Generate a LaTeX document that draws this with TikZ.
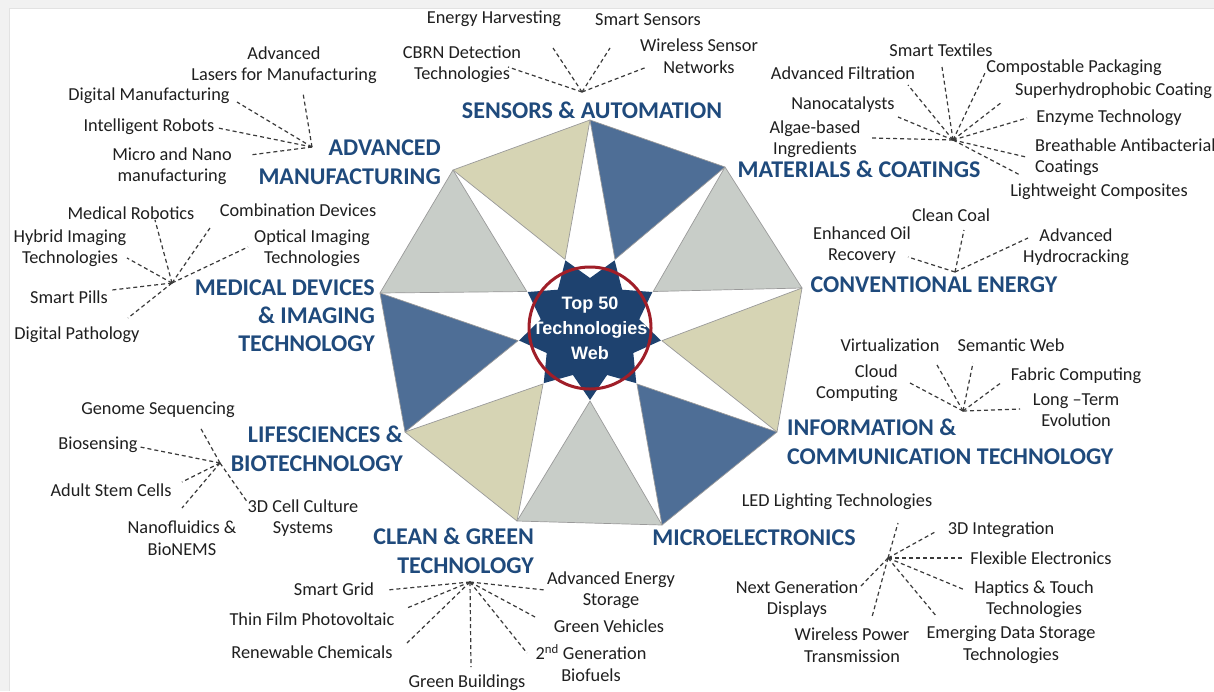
\documentclass[tikz,border=0pt]{standalone}
\usepackage{fontspec}
\setmainfont{Carlito}
\newfontfamily\arialf{Liberation Sans}
\usetikzlibrary{calc}
\definecolor{bggray}{HTML}{F1F1F1}
\definecolor{cardedge}{HTML}{E2E2E2}
\definecolor{headblue}{HTML}{1F4A7C}
\definecolor{labgray}{HTML}{1F1F1F}
\definecolor{triblue}{HTML}{4E6E96}
\definecolor{trigray}{HTML}{C8CDC8}
\definecolor{trikhaki}{HTML}{D6D4B4}
\definecolor{stardark}{HTML}{1E426F}
\definecolor{ringred}{HTML}{A01E28}
\definecolor{edgegray}{HTML}{9A9A9A}
\definecolor{dashgray}{HTML}{3A3A3A}
\tikzset{
  head/.style={font=\bfseries\fontsize{24}{29}\selectfont, text=headblue, inner sep=0pt, align=center},
  lab/.style={font=\fontsize{18.3}{21.5}\selectfont, text=labgray, inner sep=0pt, align=center},
  dashline/.style={draw=dashgray, line width=1.2pt, dash pattern=on 4pt off 3pt},
  tri/.style={draw=edgegray, line width=0.7pt, line join=round}
}
\begin{document}
\begin{tikzpicture}[x=1pt,y=-1pt]
\useasboundingbox (0,0) rectangle (1214,691);
% frame
\fill[bggray] (0,0) rectangle (1214,691);
\fill[cardedge] (9,8) rectangle (1214,691);
\fill[white] (10,9) rectangle (1214,691);

% outer vertices of the nonagon
\coordinate (V0) at (590,120);
\coordinate (V1) at (725,167);
\coordinate (V2) at (802,288);
\coordinate (V3) at (777,432);
\coordinate (V4) at (662,525);
\coordinate (V5) at (517,521);
\coordinate (V6) at (405,432);
\coordinate (V7) at (380,293);
\coordinate (V8) at (453,170);
\begin{scope}[shift={(590,328)}, yscale=-1]
  \foreach \i in {0,...,8} {
    \coordinate (I\i) at ({70-40*\i}:73);
  }
\end{scope}
% triangles
\filldraw[tri, fill=triblue]   (V0) -- (V1) -- (I0) -- cycle;
\filldraw[tri, fill=trigray]   (V1) -- (V2) -- (I1) -- cycle;
\filldraw[tri, fill=trikhaki]  (V2) -- (V3) -- (I2) -- cycle;
\filldraw[tri, fill=triblue]   (V3) -- (V4) -- (I3) -- cycle;
\filldraw[tri, fill=trigray]   (V4) -- (V5) -- (I4) -- cycle;
\filldraw[tri, fill=trikhaki]  (V5) -- (V6) -- (I5) -- cycle;
\filldraw[tri, fill=triblue]   (V6) -- (V7) -- (I6) -- cycle;
\filldraw[tri, fill=trigray]   (V7) -- (V8) -- (I7) -- cycle;
\filldraw[tri, fill=trikhaki]  (V8) -- (V0) -- (I8) -- cycle;
% central star and ring
\begin{scope}[shift={(590,328)}, yscale=-1]
  \fill[stardark] (90:50) \foreach \i in {0,...,8} { -- ({110+40*\i}:72) -- ({130+40*\i}:50) } -- cycle;
  \draw[ringred, line width=3pt] (0,0) circle (61pt);
\end{scope}
\node[font=\arialf\bfseries\fontsize{18}{25}\selectfont, text=white, align=center, inner sep=0pt] (ctr) at (590,328) {Top 50\\Technologies\\Web};

% ---------------- SENSORS & AUTOMATION
\node[head] (hS) at (592,110) {SENSORS \& AUTOMATION};
\node[lab] (eh) at (494,19) {Energy Harvesting};
\node[lab] (ss) at (648,20) {Smart Sensors};
\node[lab] (cbrn) at (462,64) {CBRN Detection\\Technologies};
\node[lab] (wsn) at (699,56) {Wireless Sensor\\Networks};
\coordinate (hubS) at (582,92);
\coordinate (eS1) at (553,48);
\coordinate (eS2) at (610,48);
\coordinate (eS3) at (508,67);
\coordinate (eS4) at (647,67);
\foreach \e in {eS1,eS2,eS3,eS4} \draw[dashline] (hubS) -- (\e);

% ---------------- ADVANCED MANUFACTURING
\node[head, align=right, anchor=east] (hA) at (441,162) {ADVANCED\\MANUFACTURING};
\node[lab] (alm) at (284,65) {Advanced\\Lasers for Manufacturing};
\node[lab] (dm) at (149,96) {Digital Manufacturing};
\node[lab] (ir) at (149,127) {Intelligent Robots};
\node[lab] (mnm) at (172,166) {Micro and Nano\\manufacturing};
\coordinate (hubA) at (312,147);
\coordinate (eA1) at (303,93);
\coordinate (eA2) at (237,102);
\coordinate (eA3) at (218,128);
\coordinate (eA4) at (250,155);
\foreach \e in {eA1,eA2,eA3,eA4} \draw[dashline] (hubA) -- (\e);

% ---------------- MATERIALS & COATINGS
\node[head] (hM) at (859,169) {MATERIALS \& COATINGS};
\node[lab] (st) at (941,50) {Smart Textiles};
\node[lab] (af) at (843,73) {Advanced Filtration};
\node[lab] (cp) at (1074,68) {Compostable Packaging};
\node[lab, anchor=west] (sc) at (1015,91) {Superhydrophobic Coating};
\node[lab] (nc) at (843,105) {Nanocatalysts};
\node[lab] (et) at (1109,118) {Enzyme Technology};
\node[lab] (ab) at (815,139) {Algae-based\\Ingredients};
\node[lab, anchor=west, align=left] (bac) at (1035,157) {Breathable Antibacterial\\Coatings};
\node[lab] (lc) at (1099,192) {Lightweight Composites};
\coordinate (hubM) at (953,140);
\coordinate (eM1) at (942,67);
\coordinate (eM2) at (908,85);
\coordinate (eM3) at (985,73);
\coordinate (eM4) at (1002,102);
\coordinate (eM5) at (898,117);
\coordinate (eM6) at (1027,118);
\coordinate (eM7) at (872,138);
\coordinate (eM8) at (1026,157);
\coordinate (eM9) at (1020,175);
\foreach \e in {eM1,eM2,eM3,eM4,eM5,eM6,eM7,eM8,eM9} \draw[dashline] (hubM) -- (\e);

% ---------------- MEDICAL DEVICES
\node[head, align=right, anchor=east, font=\bfseries\fontsize{24}{28}\selectfont] (hMe) at (375,316) {MEDICAL DEVICES\\\& IMAGING\\TECHNOLOGY};
\node[lab] (mr) at (131,213) {Medical Robotics};
\node[lab] (cd) at (298,210) {Combination Devices};
\node[lab] (hit) at (70,248) {Hybrid Imaging\\Technologies};
\node[lab] (oit) at (312,248) {Optical Imaging\\Technologies};
\node[lab] (sp) at (69,297) {Smart Pills};
\node[lab] (dp) at (77,335) {Digital Pathology};
\coordinate (hubMe) at (172,283);
\coordinate (eD1) at (155,220);
\coordinate (eD2) at (210,228);
\coordinate (eD3) at (127,258);
\coordinate (eD4) at (248,247);
\coordinate (eD5) at (112,290);
\coordinate (eD6) at (128,318);
\foreach \e in {eD1,eD2,eD3,eD4,eD5,eD6} \draw[dashline] (hubMe) -- (\e);

% ---------------- CONVENTIONAL ENERGY
\node[head] (hC) at (934,285) {CONVENTIONAL ENERGY};
\node[lab] (cc) at (951,215) {Clean Coal};
\node[lab] (eor) at (862,245) {Enhanced Oil\\Recovery};
\node[lab] (ah) at (1076,247) {Advanced\\Hydrocracking};
\coordinate (hubC) at (955,272);
\coordinate (eC1) at (964,230);
\coordinate (eC2) at (908,257);
\coordinate (eC3) at (1028,238);
\foreach \e in {eC1,eC2,eC3} \draw[dashline] (hubC) -- (\e);

% ---------------- ICT
\node[head, align=left, anchor=west] (hI) at (787,442) {INFORMATION \&\\COMMUNICATION TECHNOLOGY};
\node[lab] (virt) at (890,345) {Virtualization};
\node[lab] (sw) at (1011,345) {Semantic Web};
\node[lab, align=right, anchor=east] (cloud) at (898,383) {Cloud\\Computing};
\node[lab] (fc) at (1076,376) {Fabric Computing};
\node[lab] (lte) at (1076,410) {Long --Term\\Evolution};
\coordinate (hubI) at (963,411);
\coordinate (eI1) at (937,365);
\coordinate (eI2) at (973,363);
\coordinate (eI3) at (910,383);
\coordinate (eI4) at (1002,382);
\coordinate (eI5) at (1020,409);
\foreach \e in {eI1,eI2,eI3,eI4,eI5} \draw[dashline] (hubI) -- (\e);

% ---------------- LIFESCIENCES
\node[head, align=right, anchor=east] (hL) at (403,449) {LIFESCIENCES \&\\BIOTECHNOLOGY};
\node[lab] (gs) at (158,410) {Genome Sequencing};
\node[lab] (bs) at (98,445) {Biosensing};
\node[lab] (asc) at (111,490) {Adult Stem Cells};
\node[lab] (nf) at (182,538) {Nanofluidics \&\\BioNEMS};
\node[lab] (ccs) at (303,518) {3D Cell Culture\\Systems};
\coordinate (hubL) at (220,463);
\coordinate (eL1) at (200,427);
\coordinate (eL2) at (140,447);
\coordinate (eL3) at (182,482);
\coordinate (eL4) at (182,508);
\coordinate (eL5) at (248,503);
\foreach \e in {eL1,eL2,eL3,eL4,eL5} \draw[dashline] (hubL) -- (\e);

% ---------------- CLEAN & GREEN
\node[head, align=right, anchor=east] (hG) at (534,551) {CLEAN \& GREEN\\TECHNOLOGY};
\node[lab] (sg) at (334,589) {Smart Grid};
\node[lab] (aes) at (611,590) {Advanced Energy\\Storage};
\node[lab] (tfp) at (312,619) {Thin Film Photovoltaic};
\node[lab] (gv) at (609,626) {Green Vehicles};
\node[lab] (rc) at (312,652) {Renewable Chemicals};
\node[lab] (sgb) at (591,663) {2\textsuperscript{nd} Generation\\Biofuels};
\node[lab] (gb) at (467,683) {Green Buildings};
\coordinate (hubG) at (470,582);
\coordinate (eG1) at (387,590);
\coordinate (eG2) at (545,590);
\coordinate (eG3) at (407,608);
\coordinate (eG4) at (535,617);
\coordinate (eG5) at (407,643);
\coordinate (eG6) at (527,653);
\coordinate (eG7) at (471,667);
\foreach \e in {eG1,eG2,eG3,eG4,eG5,eG6,eG7} \draw[dashline] (hubG) -- (\e);

% ---------------- MICROELECTRONICS
\node[head] (hE) at (754,538) {MICROELECTRONICS};
\node[lab] (led) at (837,502) {LED Lighting Technologies};
\node[lab] (di) at (1001,530) {3D Integration};
\node[lab] (fe) at (1041,558) {Flexible Electronics};
\node[lab] (ngd) at (797,599) {Next Generation\\Displays};
\node[lab] (ht) at (1034,599) {Haptics \& Touch\\Technologies};
\node[lab] (wpt) at (852,645) {Wireless Power\\Transmission};
\node[lab] (eds) at (1011,645) {Emerging Data Storage\\Technologies};
\coordinate (hubE) at (888,558);
\coordinate (eE1) at (898,523);
\coordinate (eE2) at (935,532);
\coordinate (eE3) at (962,558);
\coordinate (eE4) at (860,587);
\coordinate (eE5) at (872,617);
\coordinate (eE6) at (965,590);
\coordinate (eE7) at (937,617);
\foreach \e in {eE1,eE2,eE3,eE4,eE5,eE6,eE7} \draw[dashline] (hubE) -- (\e);
\end{tikzpicture}
\end{document}
